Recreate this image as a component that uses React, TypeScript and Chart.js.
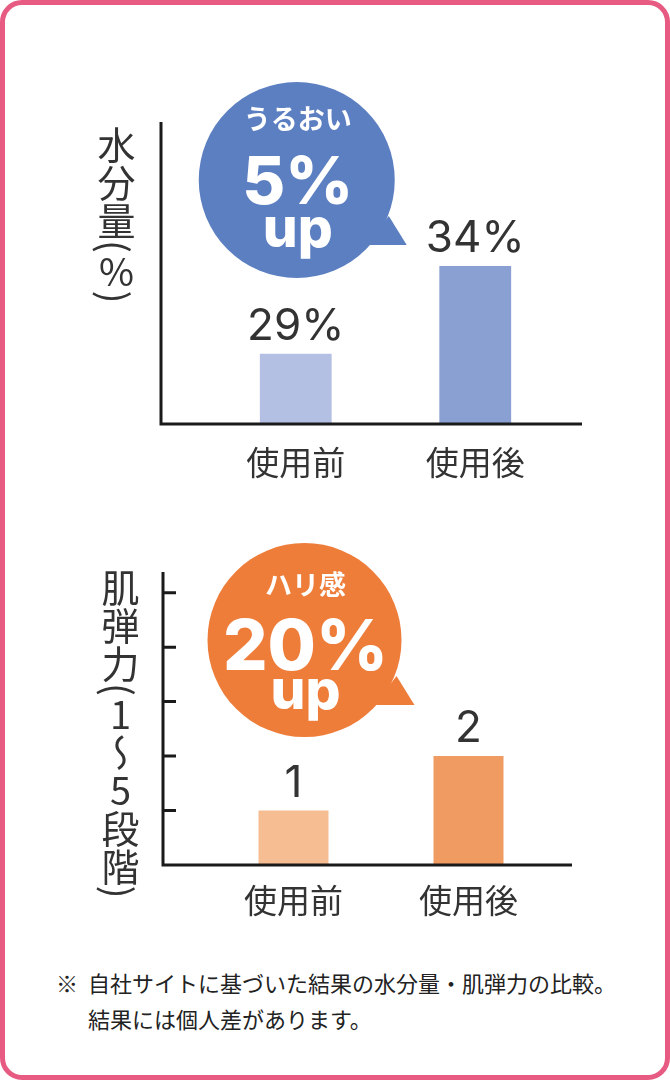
import { useEffect, useRef } from "react";
import { Chart, registerables } from "chart.js";

Chart.register(...registerables);

// values
const phases = ["使用前", "使用後"];
const moisture = [29, 34];
const elasticity = [1, 2];
const elasticitySteps = [1, 2, 3, 4, 5];
const moistureBadge = ["うるおい", "5%", "up"];
const elasticityBadge = ["ハリ感", "20%", "up"];
const noteLines = [
  "自社サイトに基づいた結果の水分量・肌弾力の比較。",
  "結果には個人差があります。",
];

const JP = '"Noto Sans CJK JP", "Noto Sans", sans-serif';
const NUM = 'Inter, "Noto Sans", sans-serif';

// draws the hand-style axes (offset left of the bars) and inner tick marks
const axesPlugin = {
  id: "handAxes",
  afterDatasetsDraw(chart: any, _args: any, opts: any) {
    const { ctx, chartArea } = chart;
    const x0 = chartArea.left - opts.left;
    const x1 = chartArea.right + opts.right;
    ctx.save();
    ctx.strokeStyle = "#1a1a1a";
    ctx.lineWidth = 3;
    ctx.beginPath();
    ctx.moveTo(x0, chartArea.top);
    ctx.lineTo(x0, chartArea.bottom);
    ctx.lineTo(x1, chartArea.bottom);
    ctx.stroke();
    if (opts.ticks) {
      const y = chart.scales.y;
      ctx.beginPath();
      opts.ticks.forEach((v: number) => {
        const py = y.getPixelForValue(v);
        ctx.moveTo(x0, py);
        ctx.lineTo(x0 + 13, py);
      });
      ctx.stroke();
    }
    ctx.restore();
  },
};

// value labels above bars
const valuePlugin = {
  id: "barValues",
  afterDatasetsDraw(chart: any, _args: any, opts: any) {
    const { ctx } = chart;
    const meta = chart.getDatasetMeta(0);
    const data = chart.data.datasets[0].data;
    ctx.save();
    ctx.fillStyle = "#333";
    ctx.font = `400 44px ${NUM}`;
    ctx.textAlign = "center";
    ctx.textBaseline = "alphabetic";
    meta.data.forEach((bar: any, i: number) => {
      ctx.fillText(`${data[i]}${opts.suffix}`, bar.x, bar.y - 14);
    });
    ctx.restore();
  },
};

// speech bubble
const badgePlugin = {
  id: "badge",
  afterDraw(chart: any, _args: any, b: any) {
    const { ctx, chartArea } = chart;
    const cx = chart.scales.x.getPixelForValue(0) + b.dx;
    const cy = chartArea.top + b.dy;
    ctx.save();
    ctx.fillStyle = b.color;
    ctx.beginPath();
    ctx.arc(cx, cy, b.r, 0, Math.PI * 2);
    ctx.fill();
    ctx.beginPath();
    ctx.moveTo(cx + 92, cy + 36);
    ctx.lineTo(cx + 110, cy + 65);
    ctx.lineTo(cx + 70, cy + 65);
    ctx.closePath();
    ctx.fill();
    ctx.fillStyle = "#fff";
    ctx.textAlign = "center";
    ctx.textBaseline = "alphabetic";
    b.lines.forEach((t: string, i: number) => {
      ctx.font = b.fonts[i];
      ctx.fillText(t, cx + 1, cy + b.baselines[i]);
    });
    ctx.restore();
  },
};

type PanelProps = {
  values: number[];
  colors: string[];
  min: number;
  max: number;
  suffix: string;
  padding: { left: number; right: number; top: number; bottom: number };
  labelPad: number;
  axes: { left: number; right: number; ticks?: number[] };
  badge: any;
  style: React.CSSProperties;
};

function BarPanel(p: PanelProps) {
  const canvasRef = useRef<HTMLCanvasElement | null>(null);
  const chartRef = useRef<Chart | null>(null);

  useEffect(() => {
    if (!canvasRef.current) return;
    chartRef.current?.destroy();
    chartRef.current = new Chart(canvasRef.current, {
      type: "bar",
      data: {
        labels: phases,
        datasets: [
          {
            data: p.values,
            backgroundColor: p.colors,
            barPercentage: 0.4,
            categoryPercentage: 1,
          },
        ],
      },
      options: {
        animation: false,
        responsive: true,
        maintainAspectRatio: false,
        layout: { padding: p.padding },
        plugins: {
          legend: { display: false },
          tooltip: { enabled: false },
          handAxes: p.axes,
          barValues: { suffix: p.suffix },
          badge: p.badge,
        } as any,
        scales: {
          x: {
            offset: true,
            grid: { display: false, drawTicks: false },
            border: { display: false },
            ticks: {
              color: "#333",
              font: { family: JP, size: 33 },
              padding: p.labelPad,
              maxRotation: 0,
            },
            afterFit: (s: any) => {
              s.height = 60;
            },
          },
          y: { display: false, min: p.min, max: p.max },
        },
      },
      plugins: [axesPlugin, valuePlugin, badgePlugin],
    });
    return () => {
      chartRef.current?.destroy();
      chartRef.current = null;
    };
  }, []);

  return (
    <div style={{ position: "absolute", left: 0, width: 670, ...p.style }}>
      <canvas ref={canvasRef} />
    </div>
  );
}

const titleStyle: React.CSSProperties = {
  position: "absolute",
  writingMode: "vertical-rl",
  fontFamily: JP,
  fontSize: 38,
  lineHeight: 1,
  color: "#333",
};
const up: React.CSSProperties = { textOrientation: "upright" };

export default function App() {
  return (
    <div
      style={{
        position: "absolute",
        left: 0,
        top: 0,
        width: 670,
        height: 1080,
        background: "#fff",
        overflow: "hidden",
      }}
    >
      <BarPanel
        values={moisture}
        colors={["#b4c0e3", "#8aa0d2"]}
        min={25}
        max={42.2}
        suffix="%"
        padding={{ left: 206, right: 105, top: 122, bottom: 16 }}
        labelPad={19}
        axes={{ left: 45, right: 17 }}
        badge={{
          color: "#5b7fc1",
          dx: 1,
          dy: 58,
          r: 98,
          lines: moistureBadge,
          baselines: [-51, 24, 67],
          fonts: [`bold 27px ${JP}`, `800 66px ${NUM}`, `800 55px ${NUM}`],
        }}
        style={{ top: 0, height: 500 }}
      />
      <BarPanel
        values={elasticity}
        colors={["#f6bd93", "#f09b62"]}
        min={0}
        max={5.38}
        suffix=""
        padding={{ left: 206, right: 114, top: 52, bottom: 15 }}
        labelPad={16}
        axes={{ left: 43, right: 16, ticks: elasticitySteps }}
        badge={{
          color: "#ee7d3a",
          dx: 11,
          dy: 68,
          r: 97,
          lines: elasticityBadge,
          baselines: [-45, 30, 69],
          fonts: [`bold 27px ${JP}`, `800 70px ${NUM}`, `800 55px ${NUM}`],
        }}
        style={{ top: 520, height: 420 }}
      />
      <div style={{ ...titleStyle, left: 97, top: 126 }}>
        水分量(<span style={up}>%</span>)
      </div>
      <div style={{ ...titleStyle, left: 101, top: 569 }}>
        肌弾力(<span style={up}>1</span>〜<span style={up}>5</span>段階)
      </div>
      <div
        style={{
          position: "absolute",
          left: 56,
          top: 964,
          display: "flex",
          fontFamily: JP,
          fontSize: 22,
          lineHeight: "36px",
          color: "#222",
        }}
      >
        <span style={{ width: 32 }}>※</span>
        <span>
          {noteLines[0]}
          <br />
          {noteLines[1]}
        </span>
      </div>
      <div
        style={{
          position: "absolute",
          inset: 0,
          border: "5px solid #e75b82",
          borderRadius: 22,
          pointerEvents: "none",
        }}
      />
    </div>
  );
}
